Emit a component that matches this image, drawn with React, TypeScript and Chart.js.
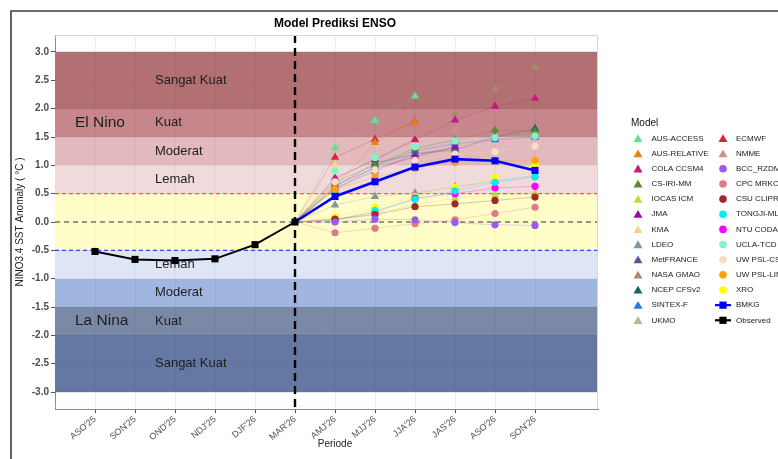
import React, { useEffect, useRef } from "react";
import { Chart, registerables } from "chart.js";

Chart.register(...registerables);

// ---------------- DATA ----------------
const periods = ["ASO'25", "SON'25", "OND'25", "NDJ'25", "DJF'26", "MAR'26", "AMJ'26", "MJJ'26", "JJA'26", "JAS'26", "ASO'26", "SON'26"];
const observedValues = [-0.52, -0.66, -0.68, -0.65, -0.4, 0.0];
const bmkgValues = [0.45, 0.71, 0.97, 1.11, 1.08, 0.91];
const initIndex = 5; // MAR'26 (forecast start, anomaly 0)
const yTickValues = [3, 2.5, 2, 1.5, 1, 0.5, 0, -0.5, -1, -1.5, -2, -2.5, -3];

const modelNames = [
  "AUS-ACCESS", "AUS-RELATIVE", "COLA CCSM4", "CS-IRI-MM", "IOCAS ICM", "JMA", "KMA", "LDEO",
  "MetFRANCE", "NASA GMAO", "NCEP CFSv2", "SINTEX-F", "UKMO",
  "ECMWF", "NMME", "BCC_RZDM", "CPC MRKOV", "CSU CLIPR", "TONGJI-ML", "NTU CODA", "UCLA-TCD",
  "UW PSL-CSI", "UW PSL-LIM", "XRO",
];
const modelShapes = [
  "triangle", "triangle", "triangle", "triangle", "triangle", "triangle", "triangle", "triangle",
  "triangle", "triangle", "triangle", "triangle", "triangle",
  "triangle", "triangle", "circle", "circle", "circle", "circle", "circle", "circle",
  "circle", "circle", "circle",
];
const modelColors = [
  "#5fe38c", "#e5820f", "#c9197f", "#5b8a2c", "#b7e03c", "#8e139f", "#f6d57f", "#7b99a3",
  "#6b4c9a", "#a8896a", "#11695c", "#1f7be2", "#b5b897",
  "#d8262e", "#d08f8f", "#9b59ef", "#e07a8b", "#a3282b", "#00eeee", "#ff00ff", "#7ff4c8",
  "#fcdcc4", "#ffa200", "#ffff00",
];
// forecasts for AMJ'26, MJJ'26, JJA'26, JAS'26, ASO'26, SON'26
const modelForecasts: (number | null)[][] = [
  [1.31, 1.79, 2.22, null, null, null], // AUS-ACCESS
  [0.62, 1.4, 1.76, null, null, null], // AUS-RELATIVE
  [0.78, 1.1, 1.45, 1.8, 2.04, 2.18], // COLA CCSM4
  [0.7, 1.0, 1.3, 1.45, 1.62, 1.6], // CS-IRI-MM
  [0.02, 0.15, 0.3, 0.42, 0.48, 0.5], // IOCAS ICM
  [0.65, 0.95, 1.15, 1.33, null, null], // JMA
  [1.02, 1.39, 1.42, null, null, null], // KMA
  [0.3, 0.45, 0.51, 0.62, 0.72, 0.82], // LDEO
  [0.6, 0.9, 1.2, 1.3, null, null], // MetFRANCE
  [0.74, 1.1, 1.45, 1.91, 2.34, 2.73], // NASA GMAO
  [0.62, 1.04, 1.2, 1.27, 1.5, 1.65], // NCEP CFSv2
  [0.56, 0.98, 1.26, 1.38, 1.45, 1.5], // SINTEX-F
  [0.7, 1.05, 1.3, 1.45, null, null], // UKMO
  [1.14, 1.46, 1.77, null, null, null], // ECMWF
  [0.76, 1.12, 1.48, 1.62, 1.55, 1.5], // NMME
  [0.0, 0.05, 0.04, -0.01, -0.05, -0.06], // BCC_RZDM
  [-0.19, -0.11, -0.03, 0.04, 0.15, 0.26], // CPC MRKOV
  [0.05, 0.13, 0.27, 0.32, 0.38, 0.44], // CSU CLIPR
  [0.03, 0.2, 0.4, 0.55, 0.7, 0.8], // TONGJI-ML
  [0.04, 0.17, 0.42, 0.5, 0.6, 0.63], // NTU CODA
  [0.9, 1.14, 1.33, 1.43, 1.49, 1.52], // UCLA-TCD
  [0.71, 0.92, 1.09, 1.2, 1.24, 1.34], // UW PSL-CSI
  [0.58, 0.8, 0.95, 1.05, 1.08, 1.09], // UW PSL-LIM
  [0.09, 0.26, 0.45, 0.61, 0.79, 1.01], // XRO
];

const bandTops = [3, 2, 1.5, 1, 0.5, -0.5, -1, -1.5, -2];
const bandBottoms = [2, 1.5, 1, 0.5, -0.5, -1, -1.5, -2, -3];
const bandColors = ["#b37073", "#c6868b", "#e2b9bc", "#f0dadc", "#fffdc8", "#dee6f5", "#a1b6df", "#7a89a6", "#6478a3"];
const bandLabels = ["Sangat Kuat", "Kuat", "Moderat", "Lemah", "Lemah", "Moderat", "Kuat", "Sangat Kuat"];
const bandLabelValues = [2.5, 1.75, 1.25, 0.75, -0.75, -1.25, -1.75, -2.5];
const phaseLabels = ["El Nino", "La Nina"];
const phaseLabelValues = [1.75, -1.75];

const FONT = "'Liberation Sans', Arial, Helvetica, sans-serif";

function drawMarker(ctx: CanvasRenderingContext2D, shape: string, x: number, y: number, r: number, color: string) {
  ctx.fillStyle = color;
  ctx.beginPath();
  if (shape === "triangle") {
    const a = (2 * Math.PI) / 3;
    ctx.moveTo(x, y - r);
    ctx.lineTo(x + Math.sin(a) * r, y - Math.cos(a) * r);
    ctx.lineTo(x + Math.sin(2 * a) * r, y - Math.cos(2 * a) * r);
    ctx.closePath();
  } else if (shape === "circle") {
    ctx.arc(x, y, r, 0, Math.PI * 2);
  } else {
    ctx.rect(x - r, y - r, 2 * r, 2 * r);
  }
  ctx.fill();
}

const backgroundPlugin = {
  id: "ensoBackground",
  beforeDatasetsDraw(chart: any) {
    const { ctx, chartArea: a, scales } = chart;
    const xs = scales.x;
    const ys = scales.y;
    ctx.save();
    ctx.beginPath();
    ctx.rect(a.left, a.top, a.right - a.left, a.bottom - a.top);
    ctx.clip();
    // minor grid lines in the white margins
    ctx.strokeStyle = "#f2f2f2";
    ctx.lineWidth = 0.6;
    [3.25, -3.25].forEach((v) => {
      const py = ys.getPixelForValue(v);
      ctx.beginPath();
      ctx.moveTo(a.left, py);
      ctx.lineTo(a.right, py);
      ctx.stroke();
    });
    // bands
    for (let i = 0; i < bandTops.length; i++) {
      const y1 = Math.round(ys.getPixelForValue(bandTops[i]));
      const y2 = Math.round(ys.getPixelForValue(bandBottoms[i]));
      ctx.fillStyle = bandColors[i];
      ctx.fillRect(a.left, y1, a.right - a.left, y2 - y1);
    }
    // faint grid through bands
    ctx.strokeStyle = "rgba(0,0,0,0.05)";
    ctx.lineWidth = 1;
    for (let i = 0; i < periods.length; i++) {
      const px = xs.getPixelForValue(i);
      ctx.beginPath();
      ctx.moveTo(px, ys.getPixelForValue(3));
      ctx.lineTo(px, ys.getPixelForValue(-3));
      ctx.stroke();
    }
    yTickValues.forEach((v) => {
      const py = ys.getPixelForValue(v);
      ctx.beginPath();
      ctx.moveTo(a.left, py);
      ctx.lineTo(a.right, py);
      ctx.stroke();
    });
    // band labels
    ctx.fillStyle = "#1e1e1e";
    ctx.textBaseline = "middle";
    ctx.textAlign = "left";
    ctx.font = `13px ${FONT}`;
    bandLabels.forEach((t, i) => {
      ctx.fillText(t, xs.getPixelForValue(1.5), ys.getPixelForValue(bandLabelValues[i]));
    });
    ctx.font = `15.5px ${FONT}`;
    phaseLabels.forEach((t, i) => {
      ctx.fillText(t, xs.getPixelForValue(-0.5), ys.getPixelForValue(phaseLabelValues[i]));
    });
    // threshold lines
    const hline = (v: number, color: string, dash: number[], w: number) => {
      const py = ys.getPixelForValue(v);
      ctx.strokeStyle = color;
      ctx.setLineDash(dash);
      ctx.lineWidth = w;
      ctx.beginPath();
      ctx.moveTo(a.left, py);
      ctx.lineTo(a.right, py);
      ctx.stroke();
    };
    hline(0.5, "#f0584e", [4, 3], 1.1);
    hline(-0.5, "#3c3cff", [4, 3], 1.1);
    hline(0, "#3a3a3a", [5, 4], 1.1);
    // vertical dashed at forecast start
    const vx = xs.getPixelForValue(initIndex);
    ctx.strokeStyle = "#000000";
    ctx.lineWidth = 2.4;
    ctx.setLineDash([8, 5]);
    ctx.beginPath();
    ctx.moveTo(vx, a.top);
    ctx.lineTo(vx, a.bottom);
    ctx.stroke();
    ctx.setLineDash([]);
    ctx.restore();
  },
  afterDraw(chart: any) {
    const { ctx, chartArea: a } = chart;
    ctx.save();
    // panel border (top/right)
    ctx.strokeStyle = "#d6d6d6";
    ctx.lineWidth = 1;
    ctx.beginPath();
    ctx.moveTo(a.left, a.top + 0.5);
    ctx.lineTo(a.right - 0.5, a.top + 0.5);
    ctx.lineTo(a.right - 0.5, a.bottom);
    ctx.stroke();
    // title
    ctx.fillStyle = "#000";
    ctx.textAlign = "center";
    ctx.textBaseline = "middle";
    ctx.font = `bold 12px ${FONT}`;
    ctx.fillText("Model Prediksi ENSO", 335, 24);
    // x-axis title
    ctx.font = `10px ${FONT}`;
    ctx.fillStyle = "#222";
    ctx.fillText("Periode", 335, 444);
    // y-axis title
    ctx.save();
    ctx.translate(20, (a.top + a.bottom) / 2);
    ctx.rotate(-Math.PI / 2);
    ctx.fillText("NINO3.4 SST Anomaly ( \u00B0C )", 0, 0);
    ctx.restore();
    // legend
    ctx.textAlign = "left";
    ctx.font = `10px ${FONT}`;
    ctx.fillStyle = "#111";
    ctx.fillText("Model", 631, 123);
    const rowY0 = 138.5;
    const dy = 15.15;
    const perCol = 13;
    const entries = modelNames.map((n, i) => ({ name: n, shape: modelShapes[i], color: modelColors[i], line: false }));
    entries.push({ name: "BMKG", shape: "rect", color: "#0000ff", line: true });
    entries.push({ name: "Observed", shape: "rect", color: "#000000", line: true });
    ctx.font = `8px ${FONT}`;
    entries.forEach((e, i) => {
      const col = Math.floor(i / perCol);
      const row = i % perCol;
      const mx = col === 0 ? 638 : 723;
      const tx = col === 0 ? 651.5 : 736;
      const my = rowY0 + row * dy;
      if (e.line) {
        ctx.strokeStyle = e.color;
        ctx.lineWidth = 2.2;
        ctx.beginPath();
        ctx.moveTo(mx - 8, my);
        ctx.lineTo(mx + 8, my);
        ctx.stroke();
        drawMarker(ctx, "rect", mx, my, 3.6, e.color);
      } else if (e.shape === "triangle") {
        drawMarker(ctx, "triangle", mx, my + 1, 5.2, e.color);
      } else {
        drawMarker(ctx, "circle", mx, my, 3.8, e.color);
      }
      ctx.fillStyle = "#1a1a1a";
      ctx.textBaseline = "middle";
      ctx.fillText(e.name, tx, my);
    });
    // outer frame lines
    ctx.strokeStyle = "#3c3c3c";
    ctx.lineWidth = 1.6;
    ctx.beginPath();
    ctx.moveTo(10.2, 11);
    ctx.lineTo(778, 11);
    ctx.moveTo(11, 10.2);
    ctx.lineTo(11, 459);
    ctx.stroke();
    ctx.restore();
  },
};

function withAlpha(hex: string, alpha: number) {
  const r = parseInt(hex.slice(1, 3), 16);
  const g = parseInt(hex.slice(3, 5), 16);
  const b = parseInt(hex.slice(5, 7), 16);
  return `rgba(${r},${g},${b},${alpha})`;
}

export default function App() {
  const canvasRef = useRef<HTMLCanvasElement | null>(null);

  useEffect(() => {
    if (!canvasRef.current) return;
    Chart.defaults.font.family = FONT;

    const modelLineSets = modelForecasts.map((vals, i) => ({
      label: modelNames[i] + " line",
      data: [{ x: initIndex, y: 0 }, ...vals.map((v, j) => ({ x: initIndex + 1 + j, y: v }))],
      borderColor: withAlpha(modelColors[i], 0.35),
      borderWidth: 0.8,
      pointRadius: 0,
      showLine: true,
      spanGaps: false,
      order: 3,
    }));
    const modelPointSets = modelForecasts.map((vals, i) => ({
      label: modelNames[i],
      data: vals.map((v, j) => ({ x: initIndex + 1 + j, y: v })),
      backgroundColor: modelColors[i],
      borderColor: modelColors[i],
      borderWidth: 0,
      pointStyle: modelShapes[i],
      pointRadius: modelShapes[i] === "triangle" ? 4.8 : 3.6,
      pointBorderWidth: 0,
      showLine: false,
      order: modelShapes[i] === "triangle" ? 2 : 1,
    }));
    const bmkgSet = {
      label: "BMKG",
      data: [{ x: initIndex, y: 0 }, ...bmkgValues.map((v, j) => ({ x: initIndex + 1 + j, y: v }))],
      borderColor: "#0000ff",
      backgroundColor: "#0000ff",
      borderWidth: 2.6,
      pointStyle: "rect",
      pointRadius: [0, 5, 5, 5, 5, 5, 5],
      pointBorderWidth: 0,
      showLine: true,
      order: 0,
    };
    const observedSet = {
      label: "Observed",
      data: observedValues.map((v, j) => ({ x: j, y: v })),
      borderColor: "#000000",
      backgroundColor: "#000000",
      borderWidth: 2,
      pointStyle: "rect",
      pointRadius: 5,
      pointBorderWidth: 0,
      showLine: true,
      order: 0,
    };

    const chart = new Chart(canvasRef.current, {
      type: "scatter",
      data: { datasets: [observedSet, bmkgSet, ...modelPointSets, ...modelLineSets] as any },
      options: {
        animation: false,
        responsive: false,
        events: [],
        layout: { padding: { top: 35, right: 180, bottom: 0, left: 0 } },
        plugins: { legend: { display: false }, tooltip: { enabled: false }, title: { display: false } },
        scales: {
          x: {
            type: "linear",
            min: -1,
            max: 12.575,
            afterFit: (s: any) => {
              s.height = 50;
            },
            ticks: {
              stepSize: 1,
              includeBounds: false,
              autoSkip: false,
              minRotation: 40,
              maxRotation: 40,
              padding: 1,
              color: "#4d4d4d",
              font: { size: 9, family: FONT },
              callback: (v: any) => {
                const n = Number(v);
                return Number.isInteger(n) && n >= 0 && n < periods.length ? periods[n] : "";
              },
            },
            grid: {
              color: (c: any) => (c.tick && c.tick.value >= 0 && c.tick.value < periods.length ? "#ebebeb" : "rgba(0,0,0,0)"),
              tickColor: (c: any) => (c.tick && c.tick.value >= 0 && c.tick.value < periods.length ? "#555" : "rgba(0,0,0,0)"),
              tickLength: 4,
              lineWidth: 1,
            },
            border: { display: true, color: "#8a8a8a", width: 1 },
          },
          y: {
            type: "linear",
            min: -3.3,
            max: 3.3,
            afterFit: (s: any) => {
              s.width = 55;
            },
            afterBuildTicks: (s: any) => {
              s.ticks = yTickValues.slice().reverse().map((v) => ({ value: v }));
            },
            ticks: {
              stepSize: 0.5,
              includeBounds: false,
              padding: 2,
              color: "#4d4d4d",
              font: { size: 10, weight: "bold", family: FONT },
              callback: (v: any) => Number(v).toFixed(1),
            },
            grid: { color: "#ebebeb", tickColor: "#555", tickLength: 4, lineWidth: 1 },
            border: { display: true, color: "#8a8a8a", width: 1 },
          },
        },
      } as any,
      plugins: [backgroundPlugin],
    });
    return () => chart.destroy();
  }, []);

  return (
    <div style={{ position: "fixed", left: 0, top: 0, width: 778, height: 459, background: "#fff" }}>
      <canvas ref={canvasRef} width={778} height={459} style={{ display: "block", width: 778, height: 459 }} />
    </div>
  );
}
